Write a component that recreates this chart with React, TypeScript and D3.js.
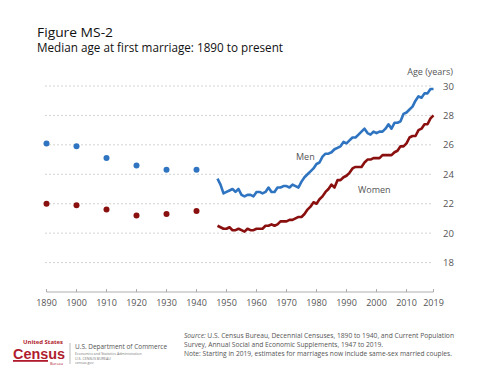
import React from "react";
import * as d3 from "d3";

const censusYears = [1890, 1900, 1910, 1920, 1930, 1940];
const censusMen = [26.1, 25.9, 25.1, 24.6, 24.3, 24.3];
const censusWomen = [22.0, 21.9, 21.6, 21.2, 21.3, 21.5];

const cpsStartYear = 1947;
const cpsMen = [
  23.7, 23.3, 22.7, 22.8, 22.9, 23.0, 22.8, 23.0, 22.6, 22.5,
  22.6, 22.6, 22.5, 22.8, 22.8, 22.7, 22.8, 23.1, 22.8, 22.8,
  23.1, 23.1, 23.2, 23.2, 23.1, 23.3, 23.2, 23.1, 23.5, 23.8,
  24.0, 24.2, 24.4, 24.7, 24.8, 25.2, 25.4, 25.4, 25.5, 25.7,
  25.8, 25.9, 26.2, 26.1, 26.3, 26.5, 26.5, 26.7, 26.9, 27.1,
  26.8, 26.7, 26.9, 26.8, 26.9, 26.9, 27.1, 27.4, 27.1, 27.5,
  27.5, 27.6, 28.1, 28.2, 28.4, 28.6, 29.0, 29.3, 29.2, 29.5,
  29.5, 29.8, 29.8,
];
const cpsWomen = [
  20.5, 20.4, 20.3, 20.3, 20.4, 20.2, 20.2, 20.3, 20.2, 20.1,
  20.3, 20.2, 20.2, 20.3, 20.3, 20.3, 20.5, 20.5, 20.6, 20.5,
  20.6, 20.8, 20.8, 20.8, 20.9, 20.9, 21.0, 21.1, 21.1, 21.3,
  21.6, 21.8, 22.1, 22.0, 22.3, 22.5, 22.8, 23.0, 23.3, 23.1,
  23.6, 23.6, 23.8, 23.9, 24.1, 24.4, 24.5, 24.5, 24.5, 24.8,
  25.0, 25.0, 25.1, 25.1, 25.1, 25.3, 25.3, 25.3, 25.3, 25.5,
  25.6, 25.9, 25.9, 26.1, 26.5, 26.6, 26.6, 27.0, 27.1, 27.4,
  27.4, 27.8, 28.0,
];

const xTicks = [1890, 1900, 1910, 1920, 1930, 1940, 1950, 1960, 1970, 1980, 1990, 2000, 2010, 2019];
const yTicks = [18, 20, 22, 24, 26, 28, 30];

const title1 = "Figure MS-2";
const title2 = "Median age at first marriage: 1890 to present";
const yLabel = "Age (years)";
const menLabel = "Men";
const womenLabel = "Women";
const source1 = " U.S. Census  Bureau, Decennial Censuses,  1890 to 1940, and Current Population";
const source2 = "Survey, Annual Social and Economic Supplements, 1947 to 2019.";
const note = "Note: Starting in 2019, estimates for  marriages now include same-sex married couples.";

const BLUE = "#2f74c0";
const RED = "#8a1010";
const FONT = "'Open Sans', 'DejaVu Sans', sans-serif";

export default function App() {
  const W = 500, H = 375;
  const x = d3.scaleLinear().domain([1890, 2019]).range([46.5, 433.5]);
  const y = d3.scaleLinear().domain([16, 30]).range([292, 86]);

  const menPts = cpsMen.map((v, i) => [cpsStartYear + i, v] as [number, number]);
  const womenPts = cpsWomen.map((v, i) => [cpsStartYear + i, v] as [number, number]);
  const line = d3.line<[number, number]>().x((d) => x(d[0])).y((d) => y(d[1]));

  return (
    <svg width={W} height={H} style={{ position: "absolute", left: 0, top: 0, background: "#fff" }} fontFamily={FONT}>
      <text x={37} y={36.5} fontSize={12} fill="#111" textLength={76} lengthAdjust="spacingAndGlyphs">{title1}</text>
      <text x={37} y={52} fontSize={12} fill="#111" textLength={246} lengthAdjust="spacingAndGlyphs">{title2}</text>

      {yTicks.map((t) => (
        <g key={t}>
          <line x1={45} x2={433} y1={y(t)} y2={y(t)} stroke="#c8c8c8" strokeWidth={0.8} strokeDasharray="2,2" />
          <text x={443} y={y(t) + 3.5} fontSize={9.5} fill="#555">{t}</text>
        </g>
      ))}
      <text x={453} y={75} fontSize={9} fill="#555" textAnchor="end">{yLabel}</text>

      <line x1={x(1890)} x2={x(2019)} y1={292} y2={292} stroke="#999" strokeWidth={0.8} />
      {xTicks.map((t) => (
        <g key={t}>
          <line x1={x(t)} x2={x(t)} y1={289} y2={292} stroke="#999" strokeWidth={0.8} />
          <text x={x(t)} y={306} fontSize={9} fill="#555" textAnchor="middle">{t}</text>
        </g>
      ))}

      <path d={line(menPts) || ""} fill="none" stroke={BLUE} strokeWidth={2.6} strokeLinejoin="round" />
      <path d={line(womenPts) || ""} fill="none" stroke={RED} strokeWidth={2.6} strokeLinejoin="round" />
      {censusYears.map((yr, i) => (
        <g key={yr}>
          <circle cx={x(yr)} cy={y(censusMen[i])} r={3} fill={BLUE} />
          <circle cx={x(yr)} cy={y(censusWomen[i])} r={3} fill={RED} />
        </g>
      ))}

      <text x={296} y={160} fontSize={9} fill="#555">{menLabel}</text>
      <text x={358} y={193} fontSize={9} fill="#555">{womenLabel}</text>

      {/* Census logo */}
      <g>
        <text x={23} y={343.5} fontSize={5} fill="#b01c2e" fontWeight="bold" textLength={40} lengthAdjust="spacingAndGlyphs">United States</text>
        <text x={13} y={358.5} fontSize={14} fill="#b01c2e" fontWeight="bold" fontFamily="'Liberation Sans', Arial, sans-serif" textLength={52} lengthAdjust="spacingAndGlyphs">Census</text>
        <rect x={13} y={360} width={35} height={1.8} fill="#b01c2e" />
        <text x={50} y={364.5} fontSize={4} fill="#b01c2e" textLength={13} lengthAdjust="spacingAndGlyphs">Bureau</text>
        <line x1={70} x2={70} y1={343} y2={364} stroke="#aaa" strokeWidth={0.8} />
        <text x={75} y={348.5} fontSize={6.5} fill="#555" textLength={92} lengthAdjust="spacingAndGlyphs">U.S. Department of Commerce</text>
        <text x={75} y={355} fontSize={3.6} fill="#777">Economics and Statistics Administration</text>
        <text x={75} y={359.5} fontSize={3.6} fill="#777">U.S. CENSUS BUREAU</text>
        <text x={75} y={364} fontSize={3.6} fill="#777">census.gov</text>
      </g>

      <text x={184} y={337.5} fontSize={7} fill="#555" textLength={270} lengthAdjust="spacingAndGlyphs">
        <tspan fontStyle="italic">Source:</tspan>{source1}
      </text>
      <text x={184} y={346.5} fontSize={7} fill="#555" textLength={199} lengthAdjust="spacingAndGlyphs">{source2}</text>
      <text x={184} y={355.5} fontSize={7} fill="#555" textLength={268} lengthAdjust="spacingAndGlyphs">{note}</text>
    </svg>
  );
}
